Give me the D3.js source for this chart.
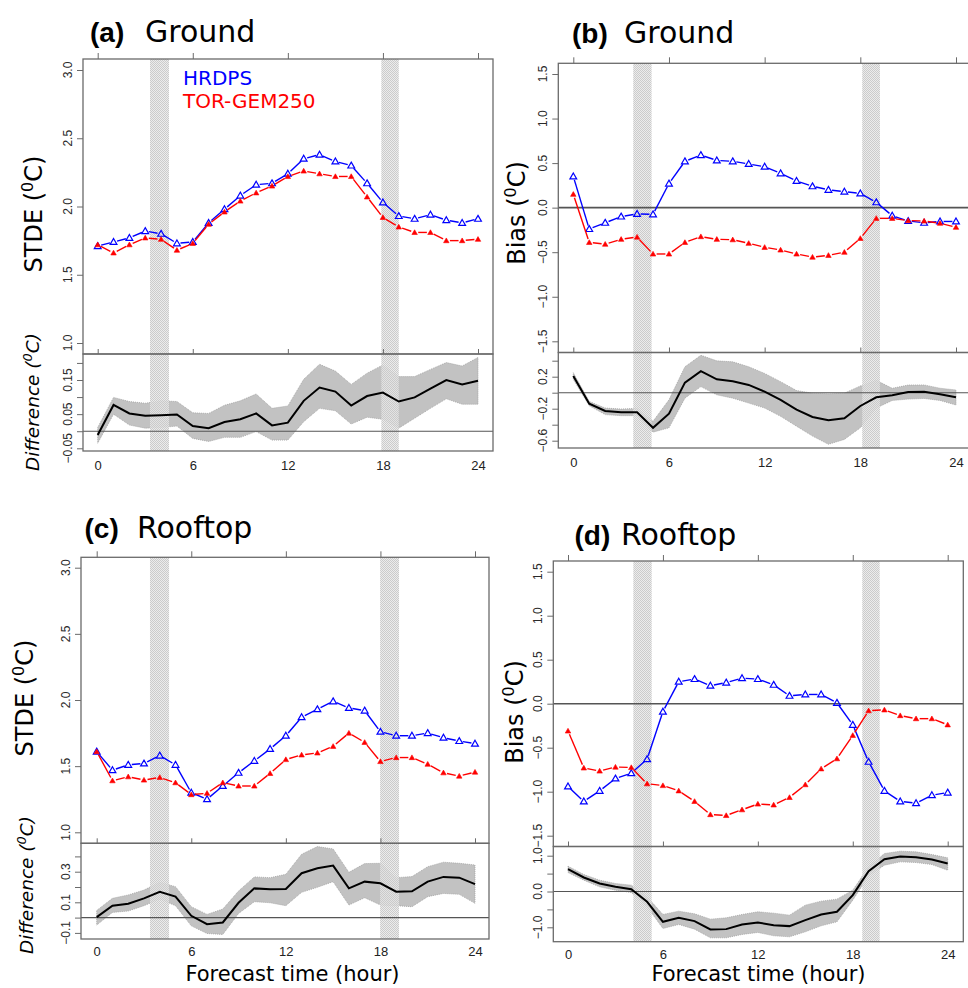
<!DOCTYPE html>
<html><head><meta charset="utf-8">
<script src="https://cdn.jsdelivr.net/npm/d3@7"></script>
<style>body{margin:0;background:#fff}svg{display:block}</style>
</head><body>
<svg id="c" width="968" height="988"></svg>
<script>
// ---------------- DATA ----------------
const hours = [0,1,2,3,4,5,6,7,8,9,10,11,12,13,14,15,16,17,18,19,20,21,22,23,24];
const xTicks = [0,6,12,18,24];
const seriesNames = ["HRDPS","TOR-GEM250"];

// (a) Ground STDE
const aHRDPS = [1.71,1.74,1.77,1.82,1.80,1.73,1.74,1.88,1.98,2.08,2.16,2.17,2.24,2.35,2.38,2.33,2.30,2.17,2.03,1.93,1.91,1.94,1.90,1.88,1.91];
const aTOR   = [1.72,1.66,1.72,1.77,1.76,1.68,1.73,1.87,1.96,2.04,2.10,2.15,2.22,2.26,2.24,2.22,2.22,2.07,1.92,1.85,1.81,1.81,1.75,1.75,1.76];
const aDiff   = [-0.011,0.077,0.052,0.045,0.047,0.049,0.015,0.009,0.027,0.035,0.052,0.017,0.025,0.089,0.128,0.116,0.075,0.103,0.113,0.087,0.099,0.125,0.150,0.137,0.148];
const aDiffHi = [0.011,0.099,0.087,0.082,0.089,0.087,0.054,0.052,0.076,0.089,0.109,0.067,0.074,0.152,0.196,0.176,0.137,0.170,0.194,0.160,0.160,0.181,0.201,0.191,0.216];
const aDiffLo = [-0.035,0.050,0.018,0.009,0.011,0.015,-0.021,-0.030,-0.018,-0.018,-0.001,-0.026,-0.026,0.028,0.067,0.060,0.021,0.041,0.035,0.009,0.038,0.067,0.095,0.079,0.079];
const aShade = [[3.3,4.5],[17.9,19.0]];

// (b) Ground Bias
const bHRDPS = [0.35,-0.24,-0.17,-0.10,-0.07,-0.075,0.27,0.52,0.59,0.53,0.52,0.49,0.46,0.385,0.30,0.24,0.20,0.18,0.16,0.06,-0.09,-0.15,-0.17,-0.155,-0.155];
const bTOR   = [0.15,-0.39,-0.41,-0.355,-0.33,-0.52,-0.52,-0.39,-0.325,-0.355,-0.36,-0.40,-0.445,-0.475,-0.52,-0.555,-0.535,-0.50,-0.345,-0.12,-0.12,-0.145,-0.15,-0.175,-0.22];
const bDiff   = [0.208,-0.138,-0.229,-0.245,-0.245,-0.439,-0.262,0.126,0.270,0.167,0.142,0.097,0.014,-0.089,-0.212,-0.303,-0.344,-0.320,-0.166,-0.058,-0.032,0.009,0.013,-0.020,-0.057];
const bDiffHi = [0.25,-0.109,-0.192,-0.204,-0.196,-0.357,-0.089,0.324,0.468,0.398,0.386,0.324,0.241,0.138,0.027,-0.006,-0.014,-0.006,0.084,0.155,0.055,0.096,0.097,0.056,0.034];
const bDiffLo = [0.167,-0.163,-0.274,-0.287,-0.287,-0.493,-0.439,-0.068,0.076,-0.027,-0.068,-0.130,-0.192,-0.295,-0.419,-0.542,-0.645,-0.584,-0.439,-0.192,-0.097,-0.080,-0.072,-0.097,-0.154];
const bShade = [[3.76,4.91],[18.12,19.23]];

// (c) Rooftop STDE
const cHRDPS = [1.61,1.47,1.51,1.52,1.58,1.51,1.30,1.25,1.35,1.45,1.54,1.63,1.73,1.87,1.93,1.99,1.94,1.92,1.76,1.73,1.73,1.75,1.715,1.69,1.67];
const cTOR   = [1.61,1.39,1.42,1.395,1.415,1.375,1.285,1.295,1.375,1.35,1.35,1.445,1.55,1.585,1.60,1.65,1.75,1.68,1.535,1.565,1.565,1.515,1.45,1.425,1.455];
const cDiff   = [0.003,0.078,0.091,0.126,0.169,0.137,0.012,-0.043,-0.032,0.097,0.191,0.185,0.187,0.290,0.322,0.340,0.191,0.235,0.224,0.169,0.172,0.235,0.266,0.261,0.219];
const cDiffHi = [0.047,0.126,0.148,0.180,0.231,0.202,0.071,0.021,0.056,0.174,0.266,0.261,0.283,0.414,0.464,0.449,0.296,0.353,0.355,0.261,0.268,0.333,0.362,0.355,0.344];
const cDiffLo = [-0.049,0.034,0.043,0.078,0.121,0.078,-0.054,-0.104,-0.110,0.027,0.104,0.097,0.078,0.165,0.198,0.235,0.082,0.130,0.082,0.078,0.071,0.137,0.158,0.152,0.093];
const cShade = [[3.38,4.59],[17.98,19.18]];

// (d) Rooftop Bias
const dHRDPS = [-0.94,-1.11,-0.99,-0.85,-0.79,-0.63,-0.09,0.25,0.28,0.205,0.24,0.29,0.28,0.215,0.09,0.105,0.105,0.01,-0.24,-0.66,-0.99,-1.11,-1.13,-1.04,-1.01];
const dTOR   = [-0.31,-0.73,-0.765,-0.72,-0.725,-0.91,-0.93,-0.99,-1.11,-1.26,-1.27,-1.205,-1.14,-1.15,-1.065,-0.92,-0.74,-0.625,-0.36,-0.08,-0.07,-0.135,-0.17,-0.17,-0.24];
const dDiff   = [0.623,0.391,0.223,0.130,0.065,-0.288,-0.847,-0.735,-0.828,-1.060,-1.051,-0.921,-0.865,-0.940,-0.967,-0.800,-0.642,-0.567,-0.102,0.567,0.902,0.977,0.958,0.893,0.781];
const dDiffHi = [0.707,0.474,0.316,0.223,0.177,-0.149,-0.642,-0.549,-0.623,-0.772,-0.735,-0.642,-0.567,-0.605,-0.660,-0.381,-0.270,-0.214,0.037,0.688,1.060,1.126,1.107,1.033,0.940];
const dDiffLo = [0.530,0.316,0.130,0.037,-0.028,-0.428,-1.033,-0.921,-1.051,-1.293,-1.293,-1.200,-1.144,-1.237,-1.265,-1.126,-0.958,-0.847,-0.242,0.437,0.735,0.828,0.809,0.753,0.595];
const dShade = [[4.13,5.29],[18.6,19.7]];

// tick values
const stdeTicks = [1.0,1.5,2.0,2.5,3.0];
const biasTicks = [-1.5,-1.0,-0.5,0,0.5,1.0,1.5];
const aDiffTicks = [-0.05,0,0.05,0.10,0.15,0.20], aDiffLabels = [-0.05,0.05,0.15];
const bDiffTicks = [-0.6,-0.4,-0.2,0,0.2,0.4],   bDiffLabels = [-0.6,-0.2,0.2];
const cDiffTicks = [-0.1,0,0.1,0.2,0.3,0.4],     cDiffLabels = [-0.1,0.1,0.3];
const dDiffTicks = [-1.0,-0.5,0,0.5,1.0],        dDiffLabels = [-1.0,0,1.0];

// ---------------- DRAW ----------------
const svg = d3.select('#c');
const defs = svg.append('defs');
const pat = defs.append('pattern').attr('id','stip').attr('width',2).attr('height',2).attr('patternUnits','userSpaceOnUse');
pat.append('rect').attr('width',2).attr('height',2).attr('fill','#e9e9e9').attr('fill-opacity',0.85);
pat.append('rect').attr('width',1).attr('height',1).attr('fill','#c4c4c4').attr('fill-opacity',0.85);
pat.append('rect').attr('x',1).attr('y',1).attr('width',1).attr('height',1).attr('fill','#c4c4c4').attr('fill-opacity',0.85);

const BOX = '#6a6a6a';
const BLUE = '#0000ff', RED = '#ff0000';

function drawSeries(g, x, y, vals, color, filled){
  const gap = 3.6;
  const pts = vals.map((v,i)=>[x(hours[i]), y(v)]);
  for(let i=0;i<pts.length-1;i++){
    const [x0,y0]=pts[i],[x1,y1]=pts[i+1];
    const L=Math.hypot(x1-x0,y1-y0);
    if(L<=2*gap) continue;
    const ux=(x1-x0)/L, uy=(y1-y0)/L;
    g.append('line').attr('x1',x0+ux*gap).attr('y1',y0+uy*gap)
      .attr('x2',x1-ux*gap).attr('y2',y1-uy*gap)
      .attr('stroke',color).attr('stroke-width',1.4);
  }
  g.selectAll(null).data(pts).enter().append('path')
    .attr('transform',p=>`translate(${p[0]},${p[1]+0.5})`)
    .attr('d',d3.symbol(d3.symbolTriangle, filled?13:20))
    .attr('fill',filled?color:'none')
    .attr('stroke',color).attr('stroke-width',filled?0.6:1.2);
}

function yLabelText(g, xb, yc, main, size, italic){
  const t = g.append('text').attr('transform',`translate(${xb},${yc}) rotate(-90)`)
    .attr('text-anchor','middle').attr('font-family','DejaVu Sans').attr('font-size',size)
    .attr('font-style',italic?'italic':'normal').attr('fill','#000');
  t.append('tspan').text(main+' (');
  t.append('tspan').attr('baseline-shift','super').attr('font-size',Math.round(size*0.68)).text('0');
  t.append('tspan').text('C)');
}

function leftAxis(g, y, x0, ticks, labels, fmt){
  const ax = d3.axisLeft(y).tickValues(ticks).tickSize(6).tickFormat('');
  const ag = g.append('g').attr('transform',`translate(${x0},0)`).call(ax);
  ag.select('.domain').remove();
  ag.selectAll('line').attr('stroke',BOX);
  ag.selectAll(null).data(labels).enter().append('text')
    .attr('transform',v=>`translate(-11.5,${y(v)}) rotate(-90)`)
    .attr('text-anchor','middle').attr('font-family','Liberation Sans').attr('font-size',12)
    .attr('fill','#2a2a2a').text(v=>fmt(v));
}

function panel(P){
  const g = svg.append('g');
  const x = d3.scaleLinear().domain([0,24]).range(P.xr);
  const yU = d3.scaleLinear().domain(P.yUd).range(P.yUr);
  const yL = d3.scaleLinear().domain(P.yLd).range(P.yLr);

  // lower ribbon
  const area = d3.area().x((v,i)=>x(hours[i])).y0((v,i)=>yL(P.lo[i])).y1((v,i)=>yL(P.hi[i]));
  g.append('path').datum(P.diff).attr('d',area).attr('fill','#c2c2c2')
    .attr('stroke','#a0a0a0').attr('stroke-width',0.8).attr('stroke-dasharray','1,1');

  // shaded bands
  g.selectAll(null).data(P.shade).enter().append('rect')
    .attr('x',s=>x(s[0])).attr('width',s=>x(s[1])-x(s[0]))
    .attr('y',P.top).attr('height',P.bottom-P.top).attr('fill','url(#stip)');

  // zero lines
  g.append('line').attr('x1',P.left).attr('x2',P.right).attr('y1',yL(0)).attr('y2',yL(0))
    .attr('stroke','#555').attr('stroke-width',1.1);
  if(P.zeroUpper){
    g.append('line').attr('x1',P.left).attr('x2',P.right).attr('y1',yU(0)).attr('y2',yU(0))
      .attr('stroke','#555').attr('stroke-width',1.6);
  }

  // diff line
  g.append('path').datum(P.diff).attr('d',d3.line().x((v,i)=>x(hours[i])).y(v=>yL(v)))
    .attr('fill','none').attr('stroke','#000').attr('stroke-width',2);

  // series
  drawSeries(g, x, yU, P.s1, BLUE, false);
  drawSeries(g, x, yU, P.s2, RED, true);

  // boxes
  g.append('rect').attr('x',P.left).attr('y',P.top).attr('width',P.right-P.left).attr('height',P.sep-P.top)
    .attr('fill','none').attr('stroke',BOX).attr('stroke-width',1.3);
  g.append('rect').attr('x',P.left).attr('y',P.sep).attr('width',P.right-P.left).attr('height',P.bottom-P.sep)
    .attr('fill','none').attr('stroke',BOX).attr('stroke-width',1.3);

  // top ticks & separator ticks
  const topAx = g.append('g').attr('transform',`translate(0,${P.top})`)
    .call(d3.axisTop(x).tickValues(xTicks).tickSize(6).tickFormat(''));
  topAx.select('.domain').remove(); topAx.selectAll('line').attr('stroke',BOX);
  const sepAx = g.append('g').attr('transform',`translate(0,${P.sep})`)
    .call(d3.axisTop(x).tickValues(xTicks).tickSize(5).tickFormat(''));
  sepAx.select('.domain').remove(); sepAx.selectAll('line').attr('stroke',BOX);

  // bottom labels
  const botAx = g.append('g').attr('transform',`translate(0,${P.bottom})`)
    .call(d3.axisBottom(x).tickValues(xTicks).tickSize(0).tickPadding(P.xpad).tickFormat(d3.format('d')));
  botAx.select('.domain').remove();
  botAx.selectAll('text').attr('font-family','Liberation Sans').attr('font-size',13).attr('fill','#222');

  // left axes
  leftAxis(g, yU, P.left, P.uTicks, P.uTicks, d3.format('.1f'));
  leftAxis(g, yL, P.left, P.lTicks, P.lLabels, d3.format(P.lFmt));

  // title
  g.append('text').attr('x',P.tx).attr('y',P.ty).attr('font-family','Liberation Sans')
    .attr('font-weight','bold').attr('font-size',28).text(P.tag);
  g.append('text').attr('x',P.tx2).attr('y',P.ty).attr('font-family','DejaVu Sans')
    .attr('font-size',30).text(P.title);

  // y labels
  yLabelText(g, P.ylx, P.yly, P.ylab, 24, false);
  if(P.dlx) yLabelText(g, P.dlx, P.dly, 'Difference', 18.5, true);
  if(P.fx){
    g.append('text').attr('x',P.fx).attr('y',981).attr('text-anchor','middle')
      .attr('font-family','DejaVu Sans').attr('font-size',21).text('Forecast time (hour)');
  }
  if(P.legend){
    g.append('text').attr('x',183).attr('y',84.5).attr('font-family','DejaVu Sans').attr('font-size',20)
      .attr('fill',BLUE).text(seriesNames[0]);
    g.append('text').attr('x',183).attr('y',108).attr('font-family','DejaVu Sans').attr('font-size',20)
      .attr('fill',RED).text(seriesNames[1]);
  }
}

panel({left:83,right:493,top:59,sep:354,bottom:451,xr:[97.7,478],
  yUd:[1,3],yUr:[343,70],yLd:[-0.05,0.15],yLr:[448.3,380],
  s1:aHRDPS,s2:aTOR,diff:aDiff,hi:aDiffHi,lo:aDiffLo,shade:aShade,
  uTicks:stdeTicks,lTicks:aDiffTicks,lLabels:aDiffLabels,lFmt:'.2f',xpad:10,
  tag:'(a)',title:'Ground',tx:90,tx2:145,ty:42,ylab:'STDE',ylx:41.5,yly:214,dlx:38.5,dly:402,legend:true});

panel({left:558.3,right:990,top:63.3,sep:352.5,bottom:448,xr:[573.3,956],
  yUd:[-1.5,1.5],yUr:[341.3,74],yLd:[-0.6,0.2],yLr:[440.7,376.7],zeroUpper:true,
  s1:bHRDPS,s2:bTOR,diff:bDiff,hi:bDiffHi,lo:bDiffLo,shade:bShade,
  uTicks:biasTicks,lTicks:bDiffTicks,lLabels:bDiffLabels,lFmt:'.1f',xpad:10,
  tag:'(b)',title:'Ground',tx:572,tx2:624,ty:43.3,ylab:'Bias',ylx:525,yly:213});

panel({left:81,right:489,top:557.3,sep:843.3,bottom:939,xr:[96.7,475],
  yUd:[1,3],yUr:[832.3,567.7],yLd:[-0.1,0.3],yLr:[932.9,871.7],
  s1:cHRDPS,s2:cTOR,diff:cDiff,hi:cDiffHi,lo:cDiffLo,shade:cShade,
  uTicks:stdeTicks,lTicks:cDiffTicks,lLabels:cDiffLabels,lFmt:'.1f',xpad:8,
  tag:'(c)',title:'Rooftop',tx:84.5,tx2:137,ty:537.5,ylab:'STDE',ylx:33.3,yly:698,dlx:33.3,dly:885,fx:292.5});

panel({left:553.3,right:963.3,top:561,sep:846.5,bottom:941.7,xr:[568,947.7],
  yUd:[-1.5,1.5],yUr:[835.7,571.7],yLd:[-1,1],yLr:[927.3,855.7],zeroUpper:true,
  s1:dHRDPS,s2:dTOR,diff:dDiff,hi:dDiffHi,lo:dDiffLo,shade:dShade,
  uTicks:biasTicks,lTicks:dDiffTicks,lLabels:dDiffLabels,lFmt:'.1f',xpad:8.5,
  tag:'(d)',title:'Rooftop',tx:574.5,tx2:621,ty:545,ylab:'Bias',ylx:523,yly:712,fx:758.5});
</script>
</body></html>
